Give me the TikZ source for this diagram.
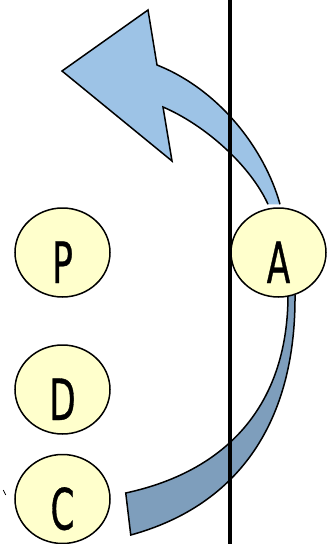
\documentclass[tikz,border=0pt]{standalone}
\usepackage{fontspec}
\newfontfamily\letterfont[FakeStretch=0.6, FakeBold=0.6]{DejaVu Sans}
\usetikzlibrary{shapes.geometric,calc}
\definecolor{stateyellow}{RGB}{255,255,204}
\definecolor{upblue}{RGB}{157,195,230}
\definecolor{downblue}{RGB}{126,158,188}
\tikzstyle{state} = [ellipse, draw=black, line width=1.5pt, fill=stateyellow, minimum width=95pt, minimum height=89pt, inner sep=0pt, text height=61pt, text depth=0pt, font=\letterfont\fontsize{57}{57}\selectfont]
\tikzstyle{bendarrow} = [draw=black, line width=1.5pt, line join=miter]
\pgfdeclarelayer{background}
\pgfsetlayers{background,main}

\begin{document}
\begin{tikzpicture}[x=1pt, y=-1pt]
\useasboundingbox (0,0) rectangle (336,544);

% States
\node[state] (P) at (62.5,252.5) {P};
\node[state] (D) at (62.5,389.5) {D};
\node[state] (C) at (62.5,499) {C};
\node[state] (A) at (278.5,252.5) {A};

\begin{pgfonlayer}{background}
% Curved arrow up from A
\fill[upblue] ($(A.north)+(-10.5,-3)$) .. controls (250,165) and (205,125) .. (163,107)
  -- (172,161) -- (62,71) -- (148,10) -- (157,65)
  .. controls (220,90) and (265,150) .. ($(A.north)+(1.5,-3)$) -- cycle;
\draw[bendarrow] ($(A.north)+(-10.5,-3)$) .. controls (250,165) and (205,125) .. (163,107)
  -- (172,161) -- (62,71) -- (148,10) -- (157,65)
  .. controls (220,90) and (265,150) .. ($(A.north)+(1.5,-3)$);

% Band down from A to C
\draw[bendarrow, fill=downblue] ($(A.south)+(9.5,-3)$) .. controls (288,400) and (232,470) .. ($(C.east)+(15,-6)$)
  -- ($(C.east)+(20,36)$) .. controls (240,505) and (296,420) .. ($(A.south)+(16.5,-3)$);

% Dividing line
\draw[line width=3.2pt] (230,0) -- (230,544);
\end{pgfonlayer}

\draw[line width=0.8pt] (3.3,490) -- (5.7,495);
\end{tikzpicture}
\end{document}
